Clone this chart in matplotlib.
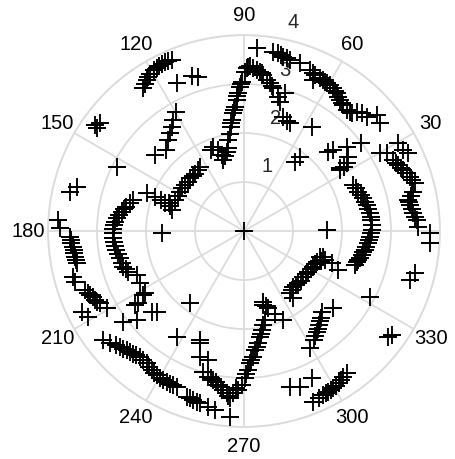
import numpy as np
import matplotlib
matplotlib.use('Agg')
import matplotlib.pyplot as plt

plt.rcParams['font.family'] = ['Liberation Sans', 'DejaVu Sans']

# angle (deg) / radius pairs of the measured points, grouped by branch
upper_spine_theta = [110.0, 107.6, 106.4, 106.2, 102.3, 99.8, 98.2, 97.3, 96.3, 95.2, 94.1,
                     93.2, 92.4, 91.6, 90.9, 89.6, 89.1, 87.9, 86.7, 85.5, 84.3, 82.9,
                     81.5, 80.0, 78.4, 75.7, 74.4, 73.4, 71.0, 68.7, 66.9, 57.0, 86.0,
                     112.0, 104.0, 101.0, 96.8, 94.6, 92.8, 91.2, 88.5, 83.6, 79.2]
upper_spine_r = [1.83, 1.73, 1.62, 1.51, 1.66, 1.88, 2.01, 2.15, 2.28, 2.41, 2.54,
                 2.68, 2.81, 2.95, 3.05, 3.25, 3.32, 3.36, 3.33, 3.30, 3.27, 3.21,
                 3.12, 3.06, 2.97, 2.83, 2.74, 2.93, 2.47, 2.40, 2.39, 2.54, 3.75,
                 1.78, 1.58, 1.72, 2.22, 2.48, 2.75, 3.00, 3.34, 3.24, 3.02]

ne_outer_theta = [80.7, 79.1, 77.3, 74.9, 71.5, 67.7, 65.5, 63.5, 61.5, 59.5, 58.1,
                  56.1, 53.8, 51.7, 49.7, 47.5, 46.6, 45.0, 43.0, 38.4, 41.2, 65.3,
                  78.0, 76.0, 66.5, 62.5, 60.5, 57.0, 55.0, 52.7, 48.5]
ne_outer_r = [3.71, 3.69, 3.65, 3.61, 3.61, 3.55, 3.50, 3.48, 3.47, 3.46, 3.43,
              3.39, 3.31, 3.27, 3.24, 3.26, 3.35, 3.40, 3.42, 3.54, 3.60, 3.39,
              3.67, 3.63, 3.52, 3.47, 3.46, 3.41, 3.35, 3.29, 3.25]

east_outer_theta = [29.6, 26.9, 25.3, 28.6, 25.4, 23.2, 21.0, 18.1, 15.6, 13.1, 10.7,
                    8.9, 6.0, 3.6, 1.4, 359.3, 356.2, 346.1, 343.6, 332.5, 323.8, 324.8,
                    24.2, 22.0, 19.5, 16.8, 12.0, 9.8, 7.5, 4.8]
east_outer_r = [3.62, 3.65, 3.71, 3.32, 3.37, 3.43, 3.48, 3.56, 3.62, 3.55, 3.41,
                3.43, 3.47, 3.53, 3.56, 3.80, 3.80, 3.60, 3.53, 2.90, 3.65, 3.69,
                3.40, 3.45, 3.52, 3.59, 3.48, 3.42, 3.45, 3.50]

east_inner_theta = [42.2, 39.4, 36.7, 29.7, 35.5, 32.9, 32.4, 22.8, 19.0, 15.3, 12.0,
                    8.0, 4.9, 0.4, 357.4, 354.3, 351.1, 348.5, 345.8, 343.0, 0.7,
                    53.0, 53.7, 43.3, 33.1, 33.4, 21.0, 17.2, 13.6, 10.0, 6.5, 2.6,
                    359.0, 356.0, 352.7, 350.0, 347.0, 344.5]
east_inner_r = [2.46, 2.71, 2.99, 3.20, 2.61, 2.42, 2.32, 2.42, 2.47, 2.52, 2.56,
                2.60, 2.61, 2.61, 2.57, 2.55, 2.50, 2.45, 2.41, 2.37, 1.69,
                1.90, 1.76, 2.36, 2.34, 2.51, 2.44, 2.50, 2.54, 2.58, 2.61, 2.62,
                2.59, 2.56, 2.52, 2.47, 2.43, 2.39]

se_inner_theta = [306.4, 311.5, 316.1, 322.4, 327.7, 332.8, 337.1, 341.3, 340.3, 339.8,
                  337.5, 306.2, 309.0, 314.0, 319.0, 325.0, 330.0, 335.0, 339.0, 342.0]
se_inner_r = [1.58, 1.52, 1.54, 1.53, 1.55, 1.59, 1.61, 1.64, 1.76, 1.91,
              2.08, 1.70, 1.55, 1.52, 1.55, 1.54, 1.57, 1.60, 1.68, 1.70]

lower_spine_theta = [285.3, 287.5, 290.6, 293.8, 283.3, 280.1, 278.6, 277.3, 275.3, 274.2,
                     272.6, 271.8, 270.4, 269.1, 268.0, 266.2, 265.2, 263.9, 262.6, 260.5,
                     258.4, 256.2, 253.9, 265.7, 250.7, 254.5, 248.0, 237.5, 233.3,
                     284.5, 286.0, 281.5, 279.3, 276.2, 273.3, 270.9, 267.0, 264.5, 261.5,
                     259.4, 257.3, 248.5]
lower_spine_r = [1.50, 1.65, 1.80, 1.99, 1.87, 2.05, 2.18, 2.31, 2.44, 2.57,
                 2.70, 2.84, 3.01, 3.14, 3.25, 3.32, 3.43, 3.33, 3.27, 3.18,
                 3.11, 3.06, 2.99, 3.80, 2.72, 2.73, 2.40, 2.56, 1.84,
                 1.56, 1.60, 1.96, 2.12, 2.38, 2.63, 2.92, 3.20, 3.38, 3.22,
                 3.14, 3.08, 2.45]

se_outer_theta = [299.4, 302.5, 305.8, 308.7, 311.3, 313.9, 319.1, 292.1, 294.0, 295.8,
                  297.7, 299.6, 301.8, 304.3, 305.8, 286.5, 289.8, 294.7,
                  304.0, 307.2, 310.0, 296.8, 298.6, 300.7, 303.0]
se_outer_r = [2.75, 2.64, 2.53, 2.46, 2.37, 2.29, 2.41, 3.76, 3.74, 3.72,
              3.70, 3.69, 3.66, 3.60, 3.58, 3.31, 3.38, 3.31,
              2.58, 2.50, 2.41, 3.71, 3.70, 3.67, 3.63]

sw_outer_theta = [217.8, 220.0, 223.0, 225.4, 227.9, 230.4, 233.7, 236.4, 238.8, 241.6,
                  244.1, 246.6, 250.9, 253.3, 255.7, 258.5, 260.8,
                  221.5, 224.2, 226.6, 229.0, 232.0, 235.0, 237.6, 240.2, 243.0, 245.4,
                  252.0, 254.5]
sw_outer_r = [3.63, 3.57, 3.46, 3.41, 3.37, 3.33, 3.35, 3.41, 3.44, 3.46,
              3.46, 3.46, 3.58, 3.60, 3.63, 3.66, 3.70,
              3.50, 3.44, 3.39, 3.35, 3.34, 3.38, 3.43, 3.45, 3.46, 3.46,
              3.59, 3.62]

west_outer_theta = [176.6, 179.2, 181.9, 184.1, 186.4, 188.6, 190.9, 195.0, 196.7, 200.4,
                    202.6, 204.8, 206.7, 209.4, 206.4, 208.8, 216.9, 219.7,
                    183.0, 185.3, 187.5, 189.8, 201.5, 203.7, 205.7]
west_outer_r = [3.80, 3.76, 3.55, 3.53, 3.50, 3.49, 3.48, 3.61, 3.60, 3.46,
                3.40, 3.35, 3.29, 3.22, 3.70, 3.63, 3.08, 2.85,
                3.54, 3.51, 3.50, 3.48, 3.43, 3.37, 3.32]

west_inner_theta = [164.4, 168.3, 171.0, 174.3, 177.4, 181.0, 184.7, 188.4, 192.4, 196.5,
                    199.4, 202.3, 206.7, 212.2, 222.7, 214.4, 181.6, 165.2, 167.3, 153.2,
                    145.1, 144.6, 143.2, 212.4, 214.2, 221.1,
                    166.0, 169.5, 172.5, 176.0, 179.2, 183.0, 186.5, 190.4, 194.5, 198.0]
west_inner_r = [2.35, 2.45, 2.53, 2.61, 2.66, 2.67, 2.66, 2.64, 2.60, 2.57,
                2.50, 2.37, 2.38, 2.39, 2.43, 2.61, 1.68, 3.53, 3.64, 2.91,
                3.66, 3.73, 3.67, 2.43, 2.69, 2.50,
                2.40, 2.49, 2.57, 2.64, 2.67, 2.67, 2.65, 2.62, 2.58, 2.53]

nw_inner_theta = [158.8, 158.9, 159.4, 159.9, 163.8, 155.8, 148.4, 142.1, 135.7, 130.4,
                  124.4, 139.5, 133.7, 129.7, 127.2, 124.7, 122.5, 119.7,
                  160.5, 152.0, 145.3, 138.9, 133.0, 127.4, 161.5]
nw_inner_r = [2.13, 1.95, 1.80, 1.64, 1.54, 1.54, 1.53, 1.53, 1.54, 1.54,
              1.59, 2.39, 2.29, 2.42, 2.50, 2.59, 2.69, 2.80,
              1.72, 1.53, 1.53, 1.53, 1.54, 1.56, 1.60]

nw_outer_theta = [125.2, 122.8, 120.9, 119.2, 117.2, 115.1, 112.9, 114.5, 108.7, 106.5,
                  124.0, 121.8, 118.2, 116.2, 114.0]
nw_outer_r = [3.56, 3.67, 3.73, 3.76, 3.78, 3.80, 3.79, 3.31, 3.33, 3.28,
              3.62, 3.70, 3.77, 3.79, 3.80]

origin_theta = [0.0]
origin_r = [0.0]

theta_deg = np.concatenate([upper_spine_theta, ne_outer_theta, east_outer_theta,
                            east_inner_theta, se_inner_theta, lower_spine_theta,
                            se_outer_theta, sw_outer_theta, west_outer_theta,
                            west_inner_theta, nw_inner_theta, nw_outer_theta,
                            origin_theta])
radius = np.concatenate([upper_spine_r, ne_outer_r, east_outer_r, east_inner_r,
                         se_inner_r, lower_spine_r, se_outer_r, sw_outer_r,
                         west_outer_r, west_inner_r, nw_inner_r, nw_outer_r,
                         origin_r])

ring_ticks = [1, 2, 3, 4]
angle_ticks = np.arange(0, 360, 30)

grid_color = '#dcdcdc'
label_size = 14.5

fig = plt.figure(figsize=(4.56, 4.59), dpi=100)
ax = fig.add_axes([0.1053, 0.0697, 0.8596, 0.854], projection='polar')

ax.plot(np.deg2rad(theta_deg), radius, '+', color='black', markersize=12.5,
        markeredgewidth=1.35, zorder=3)

ax.set_rlim(0, 4)
ax.set_rticks(ring_ticks)
ax.set_yticklabels([])
ax.set_thetagrids(angle_ticks, [''] * len(angle_ticks))
ax.grid(True, color=grid_color, linewidth=1.3)
ax.spines['polar'].set_color(grid_color)
ax.spines['polar'].set_linewidth(1.3)

# angle labels just outside the outer ring
for a in angle_ticks:
    ax.text(np.deg2rad(a), 4.40, str(a), ha='center', va='center',
            fontsize=label_size, clip_on=False)

# radial labels sit just outside each ring, near the 80 degree spoke
for rt in ring_ticks:
    ax.annotate(str(rt), xy=(np.deg2rad(80), rt), xytext=(15, 16),
                textcoords='offset pixels', ha='center', va='center',
                fontsize=label_size, color='#262626', zorder=2)

fig.savefig('out.png', dpi=100)
